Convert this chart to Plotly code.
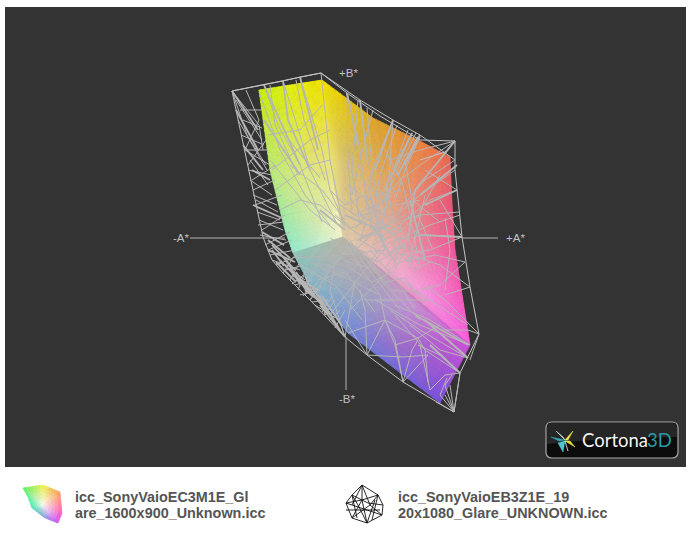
import plotly.graph_objects as go
from collections import defaultdict

# ---- gamut solid: vertices (x, y, hex colour)
solid_vertices = [
 (259,90,'#c8ee10'),(290,85,'#e2ee10'),(322,80,'#f0e200'),(270,170,'#bce878'),(285,230,'#98e8b4'),
 (293,253,'#94e8d0'),(343,237,'#f4f4d0'),(330,160,'#ece47c'),(300,170,'#dce880'),(318,225,'#d4ecb4'),
 (345,160,'#d8c070'),(373,118,'#dca828'),(420,141,'#e8843c'),(450,157,'#ec6850'),(452,203,'#ec5878'),
 (455,250,'#f0589c'),(470,345,'#fa60e0'),(343,237,'#dccca8'),(390,215,'#e4a88c'),(405,265,'#f0a4c4'),
 (425,295,'#f698e0'),(343,237,'#b8b8a8'),(310,285,'#84b8c8'),(348,333,'#7088d8'),(440,403,'#7850d8'),
 (470,345,'#d050d8'),(413,303,'#c894d4'),(380,272,'#b4a4b4'),(395,345,'#9870cc'),(435,340,'#b860d0'),
 (293,253,'#88c8b8'),(365,300,'#9ca0c4'),(325,265,'#a8b4b8')]
solid_triangles = [
 (0,1,8),(1,2,8),(2,7,8),(0,8,3),(3,8,9),(8,7,9),(7,6,9),(3,9,4),(4,9,5),(5,9,6),
 (2,11,10),(2,10,7),(7,10,17),(10,11,18),(10,18,17),(11,12,18),(12,13,18),(13,14,18),(14,15,18),
 (18,15,19),(15,20,19),(15,16,20),(17,18,19),(17,19,20),(17,20,16),
 (21,30,32),(30,22,32),(21,32,27),(32,22,31),(32,31,27),(22,23,31),(31,23,28),(31,28,26),(31,26,27),
 (21,27,26),(21,26,25),(26,29,25),(26,28,29),(28,23,24),(28,24,29),(29,24,25)]

icon_vertices = [
 (23,488,'#60f060'),(43,485,'#f0f050'),(60,492,'#f8a058'),(62,513,'#f860c0'),(58,523,'#d050f4'),
 (45,518,'#90a0e0'),(32,508,'#50e4b8'),(43,505,'#f8f8f0'),(28,497,'#60f498')]
icon_triangles = [(0,1,7),(1,2,7),(2,3,7),(3,4,7),(4,5,7),(5,6,7),(6,8,7),(8,0,7)]

# ---- outer wireframe, polylines
hull = [(232,91),(321,73),(347,93),(380,116),(420,140),(455,141),(455,170),(457,190),(462,237),(470,287),(479,334),
        (460,373),(454,412),(403,382),(367,355),(345,337),(310,300),(283,273),(272,260),(263,237),(253,190),(243,145),(232,91)]
hull2 = [(232,91),(264,85),(283,81),(300,77),(321,73),(360,100),(393,120),(420,135),(455,160)]
hull3 = [(455,141),(445,152),(420,160)]
wires_thin = [
 # left band
 [(232,91),(259,125),(263,150)],[(232,91),(247,135),(266,165)],[(246,90),(259,120),(245,150)],[(243,120),(262,128)],
 [(238,120),(267,170)],[(241,135),(264,145)],[(245,150),(270,165)],[(248,165),(266,140)],[(248,170),(272,175)],[(250,180),(272,195)],
 [(253,190),(275,180)],[(253,195),(277,205)],[(257,212),(280,220)],[(255,205),(282,195)],[(259,220),(283,230)],[(262,230),(285,215)],
 [(265,245),(290,232)],[(270,255),(295,250)],[(272,260),(300,270)],[(283,273),(297,252)],[(280,262),(305,280)],
 [(290,280),(300,262)],[(295,285),(312,280)],[(300,295),(320,290)],[(305,295),(312,270)],[(315,305),(335,318)],[(320,295),(325,315)],
 [(325,315),(335,300)],[(335,328),(345,310)],[(340,322),(345,337)],
 [(240,110),(262,110)],[(236,100),(262,140)],[(246,150),(268,150)],[(250,160),(268,185)],[(252,180),(276,165)],[(256,200),(278,212)],
 [(258,225),(284,222)],[(260,235),(286,240)],[(268,250),(292,240)],[(276,265),(300,255)],[(286,270),(304,265)],[(292,284),(310,270)],
 [(298,290),(306,270)],[(303,296),(318,282)],[(310,300),(322,285)],[(312,302),(328,300)],[(322,312),(332,296)],[(330,320),(340,310)],
 # top spokes
 [(264,85),(278,125),(300,165),(322,222)],[(283,81),(300,135),(310,170),(336,222)],[(300,77),(322,150),(330,190),(345,225)],
 [(321,73),(330,160),(343,225)],[(259,92),(280,150),(305,195),(330,225)],[(270,85),(275,125),(298,175)],[(296,80),(304,120),(325,180)],
 [(268,135),(300,130),(322,105)],[(272,170),(310,140),(330,130)],[(275,190),(310,165),(330,160)],[(280,210),(300,200),(320,205),(345,225)],
 [(290,165),(322,190),(345,220)],[(285,135),(320,178)],[(270,160),(310,210),(335,230)],
 [(347,93),(360,150),(365,190),(372,225)],[(347,93),(348,160),(352,210)],[(358,100),(352,170),(360,225)],[(367,108),(372,170),(380,215)],
 [(373,110),(360,160),(352,195)],[(393,120),(372,170),(365,210)],[(393,120),(390,165),(385,210)],[(397,125),(380,175),(370,230)],
 [(412,133),(392,170),(380,200)],[(416,133),(400,165),(378,215)],[(420,137),(405,170),(395,200)],[(408,130),(395,165)],
 [(455,141),(430,158),(400,180),(370,215)],[(455,141),(420,150),(390,160)],[(455,160),(425,180),(395,215)],[(455,170),(420,195),(385,225)],
 [(457,190),(430,200),(400,225),(375,240)],[(457,190),(425,170)],[(459,212),(420,215),(395,235)],[(460,215),(430,225),(385,245)],
 [(462,237),(425,235),(395,240)],[(462,237),(430,250),(400,255)],[(462,237),(440,200)],[(465,262),(435,255),(400,262)],[(465,262),(440,285),(420,290)],
 [(470,287),(440,265),(410,255)],[(470,287),(445,295)],[(445,218),(450,250),(445,290)],[(425,195),(415,240),(420,270)],
 # lower right spokes
 [(479,334),(445,300),(425,285)],[(479,334),(468,330),(440,330)],[(479,334),(470,360)],[(468,325),(430,300),(400,280)],
 [(470,345),(430,320),(395,305)],[(470,345),(420,325),(375,300)],[(468,358),(420,330),(390,310)],[(468,358),(440,350),(410,325)],
 [(460,373),(425,350),(395,315)],[(460,373),(440,355),(418,345)],[(460,373),(445,375),(430,390)],[(460,373),(454,412),(445,395)],
 [(454,412),(445,385),(452,375)],[(454,412),(440,395),(447,378)],[(454,412),(450,385)],[(454,412),(436,402)],
 # lower fans
 [(403,382),(395,340),(385,320)],[(403,382),(412,350),(418,340)],[(403,382),(428,355)],[(428,382),(425,350),(418,338)],[(430,390),(420,345)],
 [(367,355),(385,320),(380,295)],[(367,355),(365,310),(360,290)],[(367,355),(403,357),(428,355)],[(367,355),(345,320)],[(385,320),(418,338),(440,325)],
 [(345,337),(350,310),(355,280)],[(345,337),(330,290),(335,265)],[(348,333),(385,320)],[(385,320),(395,345),(403,382)],[(418,338),(395,345)],
 [(310,300),(330,270),(350,245)],[(330,315),(365,270),(385,250)],[(350,310),(395,265),(400,240)],[(365,300),(395,300),(430,300)],
 [(380,295),(355,260),(345,240)],[(400,310),(365,265),(350,240)],[(310,262),(350,280),(380,295)],[(295,258),(340,255),(385,250)],
 [(420,320),(385,285),(355,245)],[(415,310),(400,285),(370,250)],
 # central tangle
 [(345,225),(360,235),(385,235)],[(350,210),(365,225),(360,240)],[(340,205),(355,215),(375,205)],[(330,190),(345,205),(365,195)],
 [(365,200),(385,225),(405,215)],[(375,190),(395,205),(420,200)],[(385,180),(395,225),(395,250)],[(360,240),(385,255),(410,240)],
 [(372,245),(395,235),(412,265)],[(400,225),(405,250),(395,270)],[(385,210),(372,235),(350,255)],[(410,260),(415,235),(408,215)],
 [(335,215),(352,228),(372,218)],[(350,198),(362,215),(388,208)],[(356,228),(372,208),(392,195)],[(362,245),(378,222),(402,232)],
 [(370,262),(386,240),(372,228)],[(385,268),(402,245),(425,255)],[(352,250),(378,262),(400,248)],[(340,245),(365,252),(382,278)],
 [(348,185),(368,200),(382,190)],[(358,175),(378,195),(402,190)],[(375,210),(398,222),(420,215)],[(392,245),(415,270),(430,262)],
 [(350,268),(372,282),(392,272)],[(365,258),(392,290),(418,292)],[(322,248),(348,262),(372,268)],[(330,238),(352,252),(362,268)],
 [(385,282),(405,278),(425,305)],[(300,265),(335,285),(362,320)],[(318,280),(345,272),(375,312)],[(405,160),(412,200),(440,222)],
 [(440,175),(418,215),(432,248)],[(385,150),(402,182),(412,222)],
]
wires_thick = [
 [(232,91),(258,130)],[(236,110),(258,150)],[(243,145),(263,170)],[(252,170),(270,180)],[(253,205),(282,218)],[(262,232),(284,245)],
 [(268,250),(295,262)],[(272,245),(295,270)],[(280,260),(310,292)],[(292,275),(318,290)],[(305,290),(325,305)],[(318,295),(340,330)],
 [(264,85),(300,165)],[(283,81),(288,120),(310,170)],[(300,77),(318,150)],[(264,120),(300,175)],[(320,210),(345,230)],
 [(347,93),(358,145)],[(360,100),(368,165)],[(393,120),(375,170)],[(412,133),(390,180)],[(418,137),(398,175)],[(420,135),(405,165)],
 [(392,180),(382,225)],[(455,141),(415,190)],[(457,165),(420,195)],[(462,237),(420,235)],[(457,190),(425,205)],
 [(468,358),(425,320)],[(468,345),(415,315)],[(460,373),(430,345)],[(345,337),(320,305)],[(330,315),(305,285)],
 [(415,190),(408,240)],[(410,200),(425,260)],[(360,215),(395,235)],[(370,195),(385,250)],[(345,215),(380,230)],
 [(276,262),(296,282)],[(284,258),(306,290)],[(296,272),(312,296)],[(302,280),(322,304)],[(312,288),(332,316)],[(322,296),(342,326)],
 [(268,240),(290,258)],[(272,250),(284,266)],[(290,268),(300,284)],[(305,276),(315,298)],[(358,240),(390,225)],[(372,225),(395,262)],
]
# ---- axis lines
axis_h = [(190,238),(285,238),(462,238),(498,238)]
axis_v = [(346,337),(346,390)]
axis_labels = ['+B*','-A*','+A*','-B*']
axis_label_pos = [(348,73),(181,238),(515,238),(347,399)]

# ---- icon of the second profile
wire_icon = [
 [(362,485),(378,495),(383,505),(382,515),(367,523),(352,518),(346,503),(352,495),(362,485)],
 [(362,485),(362,500),(367,523)],[(362,485),(370,505),(382,515)],[(352,495),(368,503),(383,505)],[(346,503),(362,500),(378,495)],
 [(346,503),(367,510),(382,515)],[(352,518),(362,500)],[(352,518),(370,505),(378,495)],[(352,495),(357,518)],[(367,523),(375,500)],
 [(367,523),(358,505),(352,495)],[(346,510),(380,510)],[(362,485),(352,505)],[(378,495),(372,520)]]

legend_left = ['icc_SonyVaioEC3M1E_Gl','are_1600x900_Unknown.icc']
legend_right = ['icc_SonyVaioEB3Z1E_19','20x1080_Glare_UNKNOWN.icc']

# ---- logo shapes
logo_box = "M 552 422 L 672 422 Q 678 422 678 428 L 678 452 Q 678 458 672 458 L 552 458 Q 546 458 546 452 L 546 428 Q 546 422 552 422 Z"
logo_gloss = "M 552 423 L 672 423 Q 677 423 677 428 L 677 437 Q 610 437 547 444 L 547 428 Q 547 423 552 423 Z"
star_shards = [
 ([573,431,568,440,565,440],'#f4e84a'),([565,441,570,441,575,447],'#e8e040'),([551,437,565,440,559,441],'#35a8b0'),
 ([558,443,565,441,563,452],'#4cc8d0'),([556,431,563,437,565,440],'#e8f0f0'),([565,441,568,451,566,443],'#f0f0f0')]

def hexrgb(h):
    return [int(h[i:i+2],16) for i in (1,3,5)]

def add_gouraud(fig, verts, tris, n, step):
    groups = defaultdict(list)
    for a,b,c in tris:
        A,B,C = verts[a],verts[b],verts[c]
        ca,cb,cc = hexrgb(A[2]),hexrgb(B[2]),hexrgb(C[2])
        def pt(i,j):
            k=n-i-j
            return ((i*A[0]+j*B[0]+k*C[0])/n,(i*A[1]+j*B[1]+k*C[1])/n,
                    [(i*ca[t]+j*cb[t]+k*cc[t])/n for t in range(3)])
        for i in range(n):
            for j in range(n-i):
                cells=[(pt(i,j),pt(i+1,j),pt(i,j+1))]
                if i+j<n-1:
                    cells.append((pt(i+1,j),pt(i+1,j+1),pt(i,j+1)))
                for p,q,r in cells:
                    col=[min(255,int(round((p[2][t]+q[2][t]+r[2][t])/3/step)*step)) for t in range(3)]
                    key='rgb(%d,%d,%d)'%tuple(col)
                    groups[key].extend([(p[0],p[1]),(q[0],q[1]),(r[0],r[1]),(p[0],p[1]),(None,None)])
    for key,g in groups.items():
        fig.add_trace(go.Scatter(x=[u[0] for u in g],y=[u[1] for u in g],mode='lines',fill='toself',
                                 fillcolor=key,line=dict(color=key,width=0.7),hoverinfo='skip',showlegend=False))

def add_lines(fig, lines, color, width):
    xs,ys=[],[]
    for l in lines:
        xs += [p[0] for p in l]+[None]
        ys += [p[1] for p in l]+[None]
    fig.add_trace(go.Scatter(x=xs,y=ys,mode='lines',line=dict(color=color,width=width),hoverinfo='skip',showlegend=False))

fig = go.Figure()
add_gouraud(fig, solid_vertices, solid_triangles, 14, 6)
add_gouraud(fig, icon_vertices, icon_triangles, 6, 12)
WIRE='#b6b6b6'
add_lines(fig, [hull,hull2,hull3], '#c4c4c4', 1)
add_lines(fig, wires_thin, WIRE, 1)
add_lines(fig, wires_thick, WIRE, 1.8)
add_lines(fig, [axis_h[:2],axis_h[2:],axis_v], '#b4b4b4', 1)
add_lines(fig, wire_icon, '#111111', 0.9)
for pts,col in star_shards:
    fig.add_trace(go.Scatter(x=pts[0::2]+pts[:1],y=pts[1::2]+pts[1:2],mode='lines',fill='toself',fillcolor=col,
                             line=dict(color=col,width=0.5),hoverinfo='skip',showlegend=False))

ann=[]
for t,(x,y) in zip(axis_labels,axis_label_pos):
    ann.append(dict(x=x,y=y,text=t,showarrow=False,font=dict(family='Liberation Sans',size=11.5,color='#c0c0c0'),xanchor='center',yanchor='middle'))
for i,t in enumerate(legend_left):
    ann.append(dict(x=73,y=497+16*i,text='<b>%s</b>'%t,showarrow=False,xanchor='left',yanchor='middle',font=dict(family='Liberation Sans',size=14.4,color='#555555')))
for i,t in enumerate(legend_right):
    ann.append(dict(x=396,y=497+16*i,text='<b>%s</b>'%t,showarrow=False,xanchor='left',yanchor='middle',font=dict(family='Liberation Sans',size=14.4,color='#555555')))
ann.append(dict(x=580,y=440,text='Cortona',showarrow=False,xanchor='left',yanchor='middle',font=dict(family='Lato',size=18.5,color='#f4f4f4')))
ann.append(dict(x=674,y=440,text='3D',showarrow=False,xanchor='right',yanchor='middle',font=dict(family='Lato',size=18.5,color='#2a9aa0')))

fig.update_layout(
    width=692,height=533,margin=dict(l=0,r=0,t=0,b=0),autosize=False,
    paper_bgcolor='#ffffff',plot_bgcolor='#ffffff',showlegend=False,
    xaxis=dict(range=[0,692],visible=False,fixedrange=True),
    yaxis=dict(range=[533,0],visible=False,fixedrange=True),
    annotations=ann,
    shapes=[
      dict(type='rect',xref='x',yref='y',x0=5,x1=686,y0=7,y1=467,fillcolor='#333333',line_width=0,layer='below'),
      dict(type='path',xref='x',yref='y',path=logo_box,fillcolor='#0c0c0c',line=dict(color='#a8a8a8',width=1.2),layer='below'),
      dict(type='path',xref='x',yref='y',path=logo_gloss,fillcolor='#262626',line_width=0,layer='below'),
    ])
fig.write_html("out.html",config=dict(displayModeBar=False),
               post_script="document.body.style.margin='0';document.documentElement.style.overflow='hidden';")
